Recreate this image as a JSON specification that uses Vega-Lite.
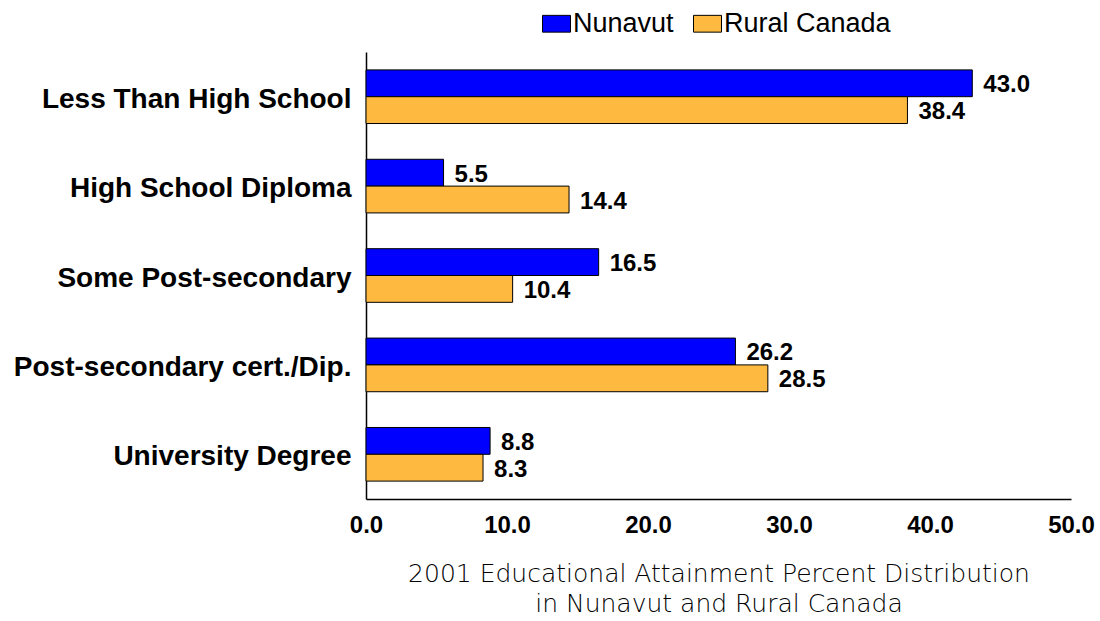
{
  "$schema": "https://vega.github.io/schema/vega-lite/v6.json",
  "width": 705,
  "height": 447,
  "autosize": {"type": "none"},
  "padding": {"left": 366, "top": 52, "right": 29, "bottom": 122},
  "background": "white",
  "config": {"view": {"stroke": null}, "font": "Liberation Sans"},
  "data": {
    "values": [
      {"category": "Less Than High School", "series": "Nunavut", "value": 43.0},
      {"category": "Less Than High School", "series": "Rural Canada", "value": 38.4},
      {"category": "High School Diploma", "series": "Nunavut", "value": 5.5},
      {"category": "High School Diploma", "series": "Rural Canada", "value": 14.4},
      {"category": "Some Post-secondary", "series": "Nunavut", "value": 16.5},
      {"category": "Some Post-secondary", "series": "Rural Canada", "value": 10.4},
      {"category": "Post-secondary cert./Dip.", "series": "Nunavut", "value": 26.2},
      {"category": "Post-secondary cert./Dip.", "series": "Rural Canada", "value": 28.5},
      {"category": "University Degree", "series": "Nunavut", "value": 8.8},
      {"category": "University Degree", "series": "Rural Canada", "value": 8.3}
    ]
  },
  "encoding": {
    "y": {
      "field": "category",
      "type": "nominal",
      "sort": null,
      "scale": {"paddingInner": 0.4, "paddingOuter": 0.2},
      "axis": {
        "title": null,
        "labelFont": "Liberation Sans",
        "labelFontSize": 28,
        "labelFontWeight": "bold",
        "labelColor": "black",
        "labelPadding": 15,
        "labelOffset": 3,
        "ticks": false,
        "domainColor": "black",
        "domainWidth": 1.5,
        "labelLimit": 400
      }
    },
    "yOffset": {"field": "series", "type": "nominal", "sort": ["Nunavut", "Rural Canada"]},
    "x": {
      "field": "value",
      "type": "quantitative",
      "scale": {"domain": [0, 50]},
      "axis": {
        "values": [0, 10, 20, 30, 40, 50],
        "format": ".1f",
        "grid": false,
        "ticks": false,
        "labelFlush": false,
        "labelOverlap": false,
        "labelFont": "Liberation Sans",
        "labelFontSize": 24,
        "labelFontWeight": "bold",
        "labelColor": "black",
        "labelPadding": 14,
        "domainColor": "black",
        "domainWidth": 1.5,
        "title": ["2001 Educational Attainment Percent Distribution", "in Nunavut and Rural Canada"],
        "titleFont": "DejaVu Sans",
        "titleFontWeight": 200,
        "titleFontSize": 25,
        "titleLineHeight": 30,
        "titlePadding": 24,
        "titleColor": "black"
      }
    }
  },
  "layer": [
    {
      "mark": {"type": "bar", "stroke": "black", "strokeWidth": 1},
      "encoding": {
        "color": {
          "field": "series",
          "type": "nominal",
          "scale": {"domain": ["Nunavut", "Rural Canada"], "range": ["#0000FF", "#FDB940"]},
          "legend": {
            "orient": "none",
            "legendX": 176,
            "legendY": -43,
            "direction": "horizontal",
            "title": null,
            "padding": 0,
            "symbolType": "M-1,-0.6L1,-0.6L1,0.6L-1,0.6Z",
            "symbolSize": 784,
            "symbolStrokeColor": "black",
            "symbolStrokeWidth": 1,
            "symbolOpacity": 1,
            "labelFont": "Liberation Sans",
            "labelFontSize": 27,
            "labelColor": "black",
            "labelOffset": 2,
            "labelLimit": 400,
            "columnPadding": 17
          }
        }
      }
    },
    {
      "mark": {"type": "text", "align": "left", "baseline": "middle", "dx": 11, "dy": 2, "fontSize": 24, "fontWeight": "bold", "color": "black", "font": "Liberation Sans"},
      "encoding": {"text": {"field": "value", "type": "quantitative", "format": ".1f"}}
    }
  ]
}
